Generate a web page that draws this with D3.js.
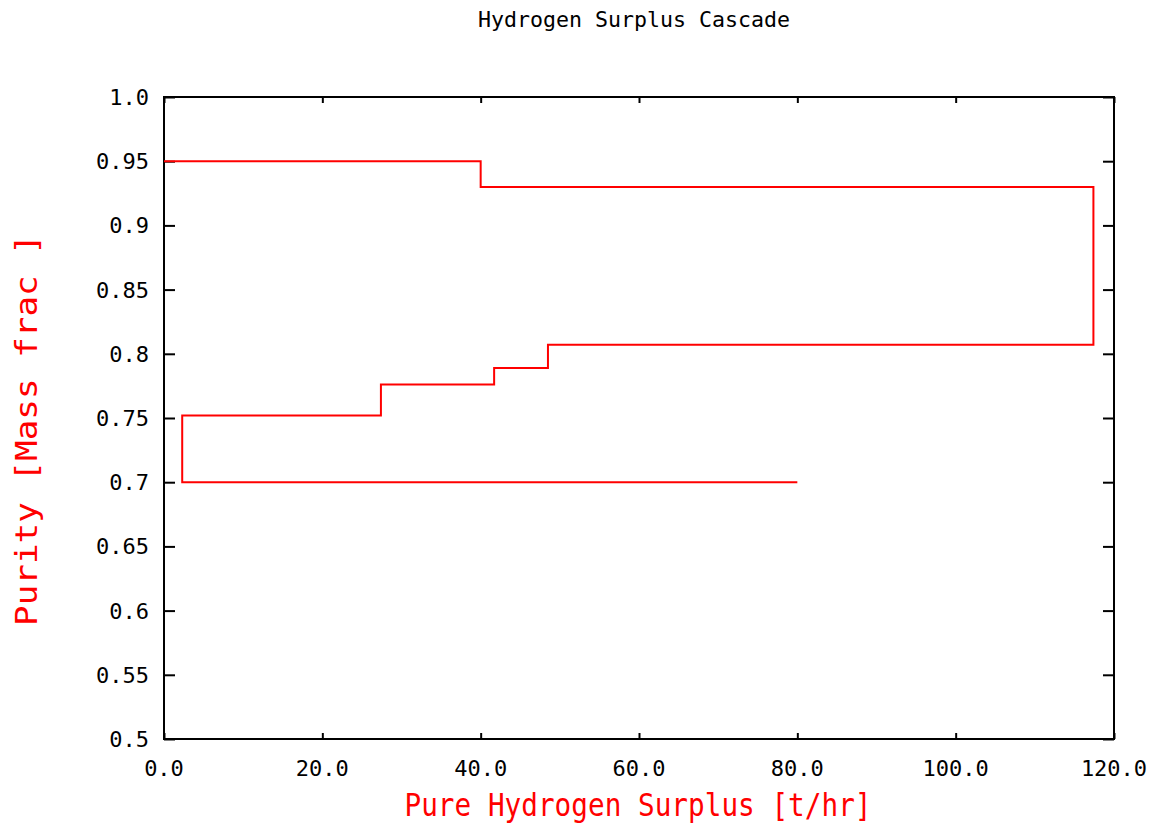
<!DOCTYPE html>
<html>
<head>
<meta charset="utf-8">
<script src="https://cdn.jsdelivr.net/npm/d3@7"></script>
<style>
  html, body { margin: 0; padding: 0; background: #fff; }
  svg { display: block; }
  text { font-family: "DejaVu Sans Mono", "Liberation Mono", monospace; }
</style>
</head>
<body>
<svg id="chart" width="1153" height="826"></svg>
<script>
// ---- data ----
const surplus = [0, 40.0, 40.0, 117.4, 117.4, 48.5, 48.5, 41.7, 41.7, 27.4, 27.4, 2.3, 2.3, 80.0];
const purity  = [0.95, 0.95, 0.93, 0.93, 0.807, 0.807, 0.789, 0.789, 0.776, 0.776, 0.752, 0.752, 0.70, 0.70];
const xTicks = [0, 20, 40, 60, 80, 100, 120];
const xTickLabels = ["0.0", "20.0", "40.0", "60.0", "80.0", "100.0", "120.0"];
const yTicks = [0.5, 0.55, 0.6, 0.65, 0.7, 0.75, 0.8, 0.85, 0.9, 0.95, 1.0];
const yTickLabels = ["0.5", "0.55", "0.6", "0.65", "0.7", "0.75", "0.8", "0.85", "0.9", "0.95", "1.0"];
const title = "Hydrogen Surplus Cascade";
const xTitle = "Pure Hydrogen Surplus [t/hr]";
const yTitle = "Purity [Mass frac ]";

// ---- layout ----
const L = 164, R = 1114, T = 97, B = 739;
const svg = d3.select("#chart");
const x = d3.scaleLinear().domain([0, 120]).range([L, R]);
const y = d3.scaleLinear().domain([0.5, 1.0]).range([B, T]);

// frame
svg.append("rect")
  .attr("x", L).attr("y", T).attr("width", R - L).attr("height", B - T)
  .attr("fill", "none").attr("stroke", "#000").attr("stroke-width", 2);

// axes (inner ticks)
const fmtX = (d, i) => xTickLabels[i];
const fmtY = (d, i) => yTickLabels[i];

const gB = svg.append("g").attr("transform", `translate(0,${B})`)
  .call(d3.axisTop(x).tickValues(xTicks).tickSize(6).tickFormat(""));
const gT = svg.append("g").attr("transform", `translate(0,${T})`)
  .call(d3.axisBottom(x).tickValues(xTicks).tickSize(6).tickFormat(""));
const gL = svg.append("g").attr("transform", `translate(${L},0)`)
  .call(d3.axisRight(y).tickValues(yTicks).tickSize(11).tickFormat(""));
const gR = svg.append("g").attr("transform", `translate(${R},0)`)
  .call(d3.axisLeft(y).tickValues(yTicks).tickSize(11).tickFormat(""));
[gB, gT, gL, gR].forEach(g => {
  g.select(".domain").remove();
  g.selectAll(".tick line").attr("stroke", "#000").attr("stroke-width", 2);
});

// tick labels
svg.append("g").selectAll("text").data(xTicks).join("text")
  .attr("x", d => x(d)).attr("y", 776)
  .attr("text-anchor", "middle")
  .attr("font-size", 22).attr("fill", "#000")
  .text(fmtX);
svg.append("g").selectAll("text").data(yTicks).join("text")
  .attr("x", 149).attr("y", d => y(d)).attr("dy", "0.36em")
  .attr("text-anchor", "end")
  .attr("font-size", 22).attr("fill", "#000")
  .text(fmtY);

// step line
const pts = surplus.map((s, i) => [s, purity[i]]);
svg.append("path")
  .datum(pts)
  .attr("d", d3.line().x(d => x(d[0])).y(d => y(d[1])))
  .attr("fill", "none").attr("stroke", "#ff0000").attr("stroke-width", 2);

// titles
svg.append("text")
  .attr("x", 634).attr("y", 27).attr("text-anchor", "middle")
  .attr("font-size", 22).attr("fill", "#000")
  .attr("textLength", 312).attr("lengthAdjust", "spacingAndGlyphs")
  .text(title);
svg.append("text")
  .attr("x", 638).attr("y", 816).attr("text-anchor", "middle")
  .attr("font-size", 32).attr("fill", "#ff0000")
  .attr("textLength", 467).attr("lengthAdjust", "spacingAndGlyphs")
  .text(xTitle);
svg.append("text")
  .attr("transform", "translate(37,430) rotate(-90)")
  .attr("text-anchor", "middle")
  .attr("font-size", 30).attr("fill", "#ff0000")
  .attr("textLength", 392).attr("lengthAdjust", "spacingAndGlyphs")
  .text(yTitle);
</script>
</body>
</html>
